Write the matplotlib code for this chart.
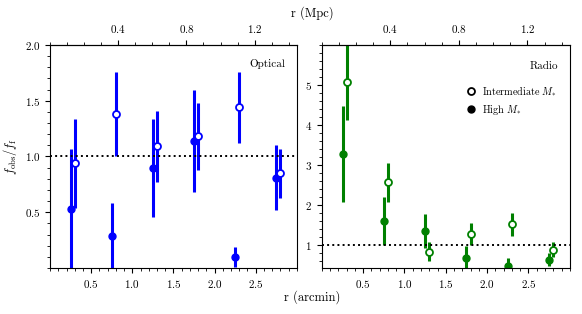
import matplotlib
matplotlib.use("Agg")
import matplotlib.pyplot as plt
from matplotlib.ticker import MultipleLocator
import numpy as np

plt.rcParams['font.family'] = 'cmr10'
plt.rcParams['mathtext.fontset'] = 'cm'
plt.rcParams['axes.formatter.use_mathtext'] = True

# arcmin -> Mpc
scale = 0.4825

# optical
opt_x_high = [0.25, 0.75, 1.25, 1.75, 2.25, 2.75]
opt_y_high = [0.53, 0.29, 0.90, 1.14, 0.10, 0.81]
opt_e_high = [0.54, 0.29, 0.44, 0.46, 0.09, 0.29]
opt_x_int = [0.30, 0.80, 1.30, 1.80, 2.30, 2.80]
opt_y_int = [0.94, 1.38, 1.09, 1.18, 1.44, 0.85]
opt_e_int = [0.40, 0.38, 0.32, 0.30, 0.32, 0.22]

# radio
rad_x_high = [0.25, 0.75, 1.25, 1.75, 2.25, 2.75]
rad_y_high = [3.27, 1.60, 1.34, 0.68, 0.47, 0.63]
rad_e_high = [1.19, 0.60, 0.43, 0.28, 0.20, 0.17]
rad_x_int = [0.30, 0.80, 1.30, 1.80, 2.30, 2.80]
rad_y_int = [5.06, 2.56, 0.83, 1.27, 1.51, 0.88]
rad_e_int = [0.94, 0.49, 0.24, 0.27, 0.28, 0.19]

fig = plt.figure(figsize=(5.82, 3.14), dpi=100)
ax1 = fig.add_axes([0.086, 0.1465, 0.424, 0.7105])
ax2 = fig.add_axes([0.553, 0.1465, 0.426, 0.7105])

def panel(ax, xh, yh, eh, xi, yi, ei, col):
    ax.errorbar(xh, yh, yerr=eh, fmt='o', color=col, ms=5, elinewidth=2.2, capsize=0)
    ax.errorbar(xi, yi, yerr=ei, fmt='o', color=col, mfc='white', mec=col,
                mew=1.3, ms=5, elinewidth=2.2, capsize=0)
    ax.axhline(1.0, color='black', ls=':', lw=1.4)
    ax.set_xlim(0, 3)
    ax.xaxis.set_minor_locator(MultipleLocator(0.1))
    ax.set_xticks([0.5, 1.0, 1.5, 2.0, 2.5])
    ax.tick_params(labelsize=8)
    ax.tick_params(which='major', length=3.5)
    ax.tick_params(which='minor', length=2)
    sec = ax.secondary_xaxis('top', functions=(lambda x: x * scale, lambda m: m / scale))
    sec.set_xticks([0.4, 0.8, 1.2])
    sec.xaxis.set_minor_locator(MultipleLocator(0.1))
    sec.tick_params(labelsize=8)
    sec.tick_params(which='major', length=3.5)
    sec.tick_params(which='minor', length=2)

panel(ax1, opt_x_high, opt_y_high, opt_e_high, opt_x_int, opt_y_int, opt_e_int, '#0000ff')
panel(ax2, rad_x_high, rad_y_high, rad_e_high, rad_x_int, rad_y_int, rad_e_int, 'green')

ax1.set_ylim(0, 2.0)
ax1.set_yticks([0.5, 1.0, 1.5, 2.0])
ax1.yaxis.set_minor_locator(MultipleLocator(0.1))
ax1.set_ylabel(r'$f_{\rm obs}/f_{\rm f}$', fontsize=9)
ax1.text(0.952, 0.915, 'Optical', transform=ax1.transAxes, ha='right', va='center', fontsize=8)

ax2.set_ylim(0.42, 6.0)
ax2.set_yticks([1, 2, 3, 4, 5])
ax2.yaxis.set_minor_locator(MultipleLocator(0.2))
ax2.text(0.952, 0.905, 'Radio', transform=ax2.transAxes, ha='right', va='center', fontsize=8)
ax2.plot([], [], 'o', color='black', mfc='white', mew=1.3, ms=5, label=r'Intermediate $M_{*}$')
ax2.plot([], [], 'o', color='black', ms=5, label=r'High $M_{*}$')
ax2.legend(loc='upper left', bbox_to_anchor=(0.562, 0.842), borderaxespad=0, frameon=False,
           fontsize=7.3, handletextpad=0.55, handlelength=1.1, labelspacing=0.5)

fig.text(0.536, 0.054, 'r (arcmin)', ha='center', va='center', fontsize=9)
fig.text(0.536, 0.959, 'r (Mpc)', ha='center', va='center', fontsize=9)

fig.savefig('out.png', dpi=100)
